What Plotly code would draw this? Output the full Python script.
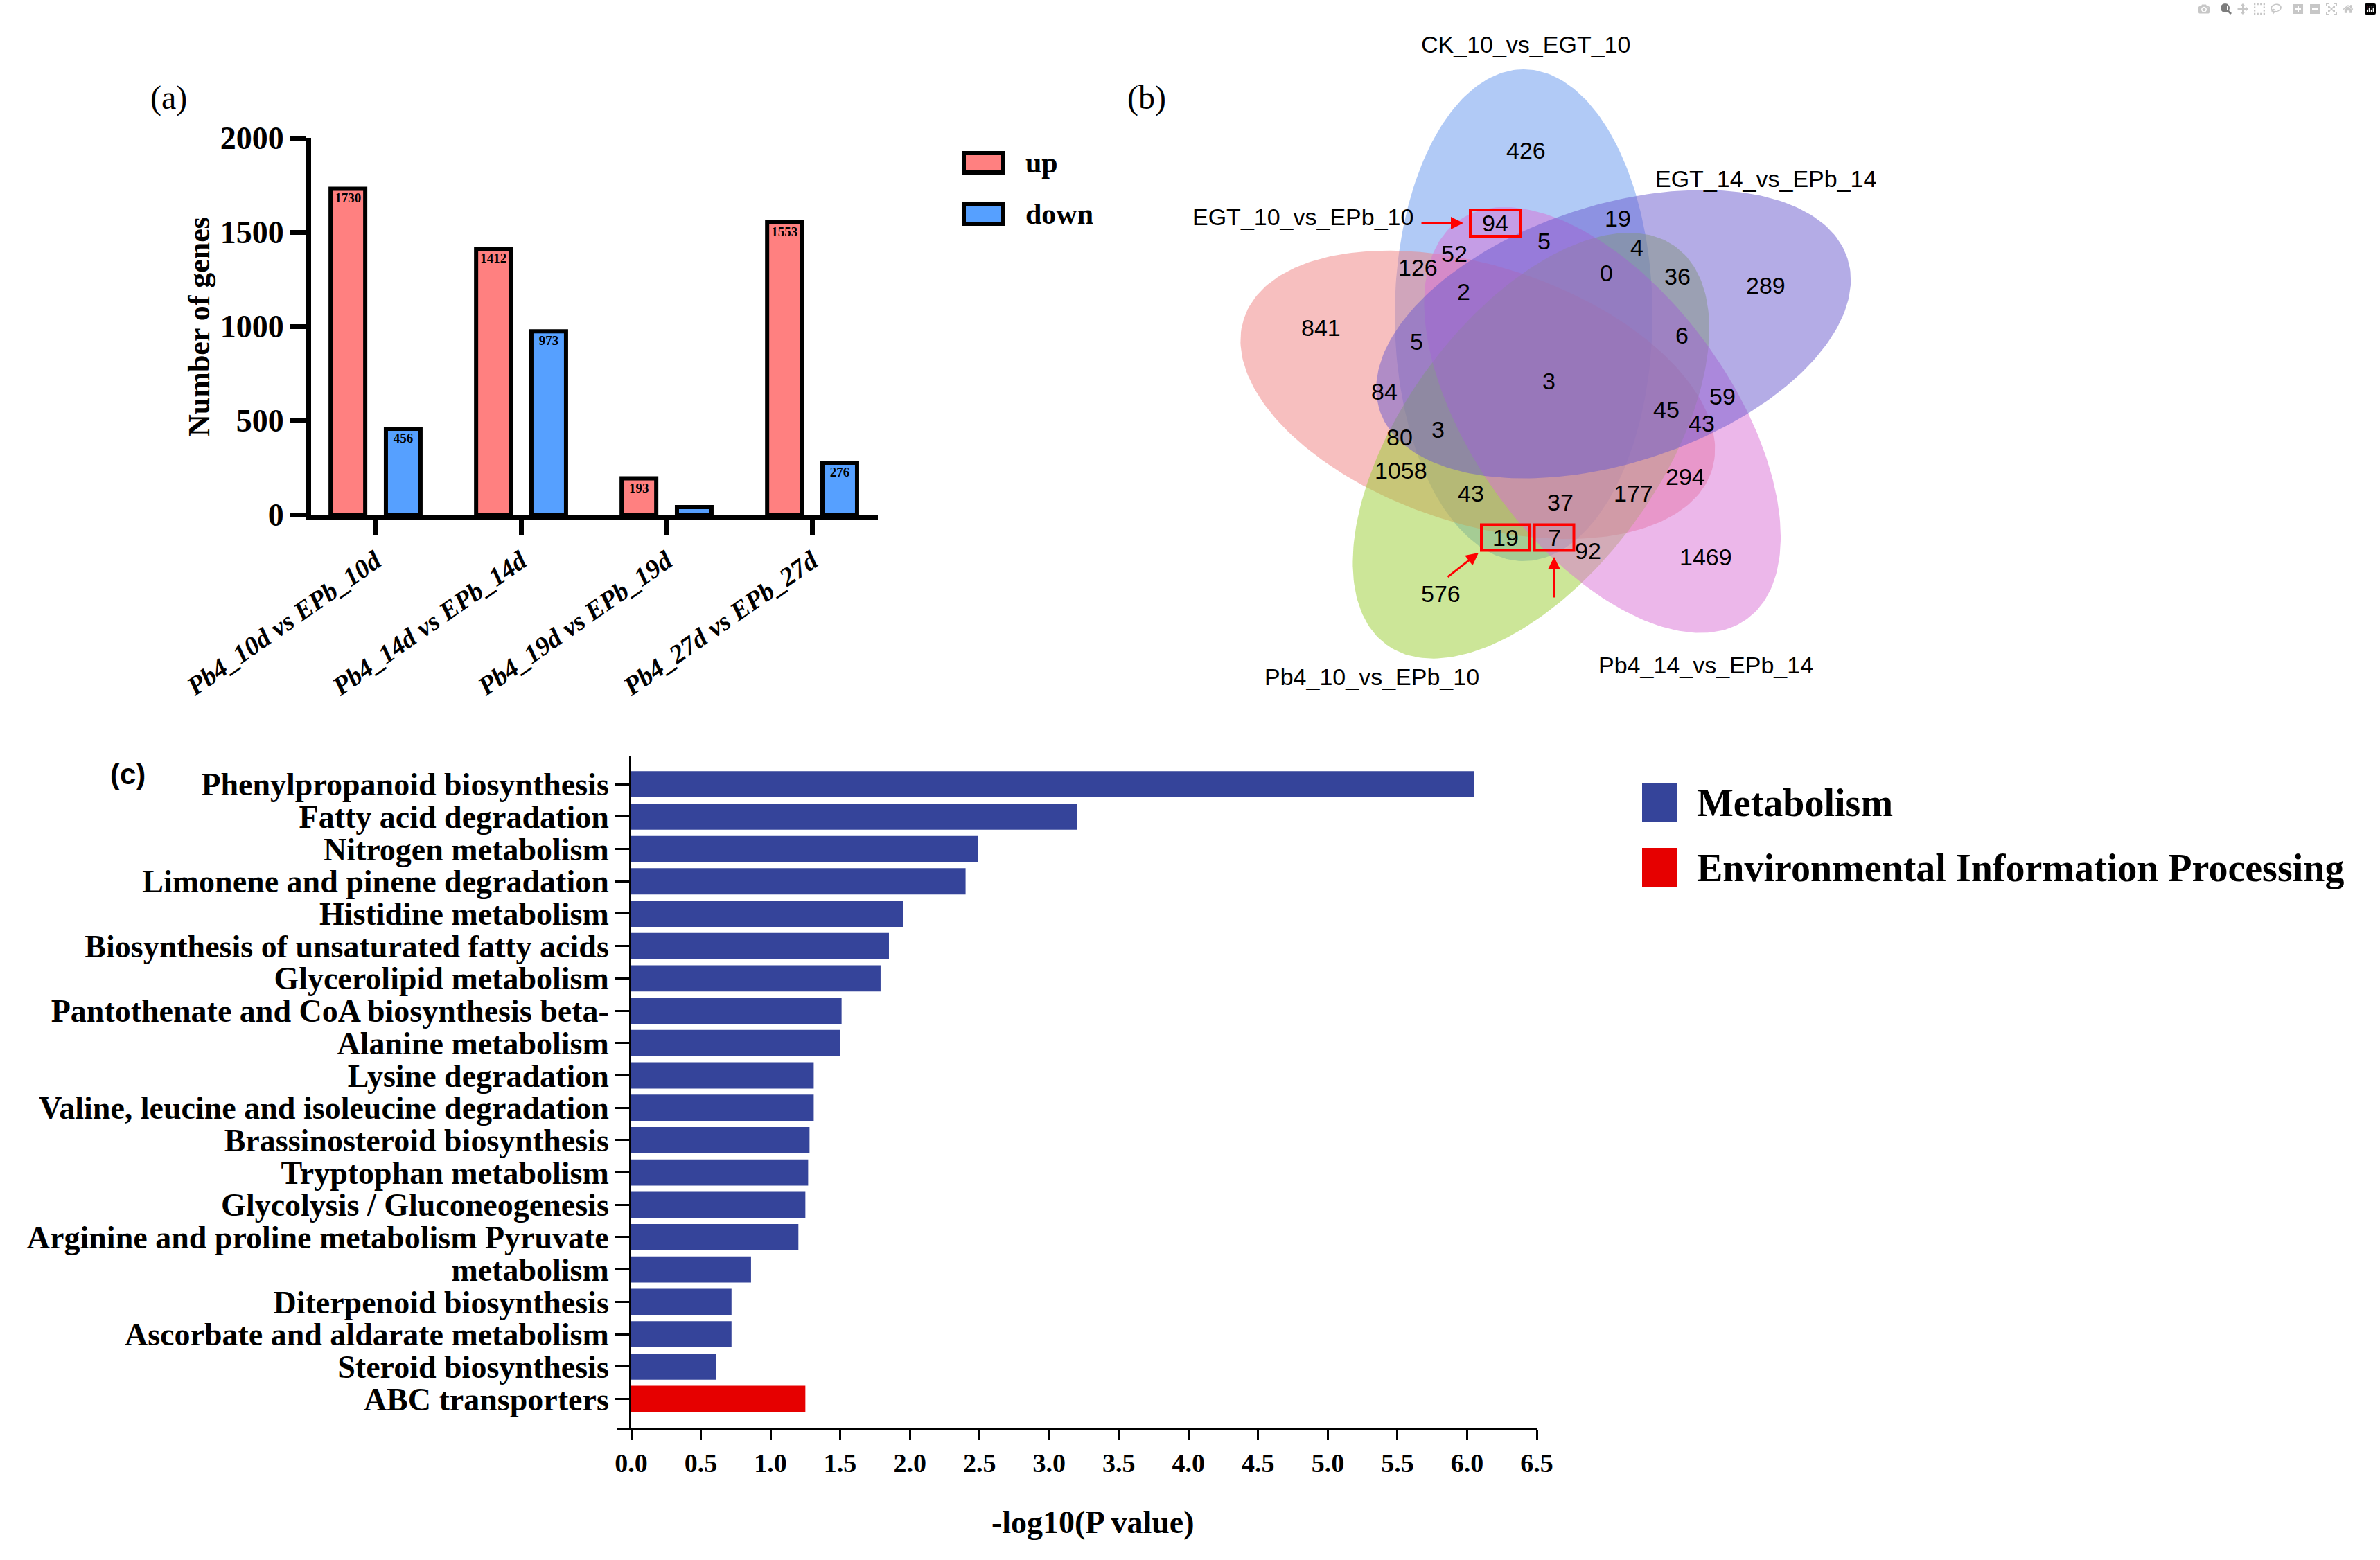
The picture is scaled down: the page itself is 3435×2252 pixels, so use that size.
import numpy as np
import plotly.graph_objects as go

W, H = 3435, 2252
SERIF = "Liberation Serif"
SANS = "Liberation Sans"

# ---------------- data: panel (a) ----------------
comparisons = ["Pb4_10d vs EPb_10d", "Pb4_14d vs EPb_14d", "Pb4_19d vs EPb_19d", "Pb4_27d vs EPb_27d"]
up_counts = [1730, 1412, 193, 1553]
down_counts = [456, 973, 40, 276]
up_labels = ["1730", "1412", "193", "1553"]
down_labels = ["456", "973", "", "276"]

# ---------------- data: panel (b) ----------------
venn_sets = ["CK_10_vs_EGT_10", "EGT_14_vs_EPb_14", "Pb4_14_vs_EPb_14", "Pb4_10_vs_EPb_10", "EGT_10_vs_EPb_10"]
venn_counts = [426, 19, 94, 5, 4, 52, 126, 0, 36, 289, 2, 841, 5, 6, 3, 84, 59, 45, 43,
               80, 3, 1058, 294, 43, 177, 37, 19, 7, 92, 1469, 576]
venn_highlight = [2, 26, 27]  # indices of boxed counts

# ---------------- data: panel (c) ----------------
pathways = ["Phenylpropanoid biosynthesis", "Fatty acid degradation", "Nitrogen metabolism",
            "Limonene and pinene degradation", "Histidine metabolism",
            "Biosynthesis of unsaturated fatty acids", "Glycerolipid metabolism",
            "Pantothenate and CoA biosynthesis beta-", "Alanine metabolism", "Lysine degradation",
            "Valine, leucine and isoleucine degradation", "Brassinosteroid biosynthesis",
            "Tryptophan metabolism", "Glycolysis / Gluconeogenesis",
            "Arginine and proline metabolism Pyruvate", "metabolism", "Diterpenoid biosynthesis",
            "Ascorbate and aldarate metabolism", "Steroid biosynthesis", "ABC transporters"]
neglog10p = [6.05, 3.20, 2.49, 2.40, 1.95, 1.85, 1.79, 1.51, 1.50, 1.31, 1.31, 1.28, 1.27,
             1.25, 1.20, 0.86, 0.72, 0.72, 0.61, 1.25]
pathway_class = ["Metabolism"] * 19 + ["Environmental Information Processing"]
class_names = ["Metabolism", "Environmental Information Processing"]
class_colors = {"Metabolism": "#35449A", "Environmental Information Processing": "#E60000"}

# ---------------- layout geometry (pixels) ----------------
def px(x):
    return x / W

def py(y):
    return 1 - y / H

# panel (a)
A_X0, A_X1 = 449, 1267
A_Y0, A_Y1 = 743, 199
# panel (c)
C_X0, C_X1 = 911, 2218
C_Y0, C_Y1 = 2062, 1092

# venn geometry
V_O = np.array([2245.0, 558.0])
V_OFF = np.array([-46.0, -103.0])
V_A, V_B = 355.0, 186.0
venn_nudge = [(0, 0), (0, 0), (-30, -8), (-12, -25), (0, 0)]
venn_fill = ["rgba(100,149,237,0.5)", "rgba(106,90,205,0.5)", "rgba(218,112,214,0.5)",
             "rgba(154,205,50,0.5)", "rgba(240,128,128,0.5)"]
venn_draw_order = [0, 4, 3, 2, 1]
venn_count_xy = [(2202, 217), (2335, 315), (2158, 322), (2228, 348), (2362, 357), (2099, 366),
                 (2046, 386), (2318, 394), (2421, 399), (2548, 412), (2112, 421), (1906, 473),
                 (2044, 493), (2427, 484), (2235, 550), (1998, 565), (2486, 572), (2405, 591),
                 (2456, 611), (2020, 631), (2075, 620), (2022, 679), (2432, 688), (2123, 712),
                 (2357, 712), (2252, 725), (2173, 776), (2243, 776), (2292, 795), (2462, 804),
                 (2079, 857)]
venn_box_wh = {2: (72, 38), 26: (70, 37), 27: (57, 37)}
venn_label_xy = [(2202, 64), (2548, 258), (2462, 960), (1980, 977), (1880, 313)]

fig = go.Figure()

# ---- panel (a) bars ----
fig.add_trace(go.Bar(x=comparisons, y=up_counts, name="up", text=up_labels,
                     width=0.238, offset=-0.309,
                     marker=dict(color="#FF8080", line=dict(color="black", width=6)),
                     textposition="inside", insidetextanchor="end", textangle=0,
                     textfont=dict(family=SERIF, size=19, color="black", weight="bold"),
                     xaxis="x", yaxis="y", showlegend=False, cliponaxis=False))
fig.add_trace(go.Bar(x=comparisons, y=down_counts, name="down", text=down_labels,
                     width=0.238, offset=0.071,
                     marker=dict(color="#56A0FF", line=dict(color="black", width=6)),
                     textposition="inside", insidetextanchor="end", textangle=0,
                     textfont=dict(family=SERIF, size=19, color="black", weight="bold"),
                     xaxis="x", yaxis="y", showlegend=False, cliponaxis=False))

# ---- panel (c) bars ----
fig.add_trace(go.Bar(y=pathways, x=neglog10p, orientation="h",
                     marker=dict(color=[class_colors[c] for c in pathway_class], line=dict(width=0)),
                     width=0.81, xaxis="x2", yaxis="y2", showlegend=False))

# ---- panel (b) venn ellipses ----
t = np.linspace(0, 2 * np.pi, 240)
for k in venn_draw_order:
    th = np.deg2rad(72 * k)
    c, s = np.cos(th), np.sin(th)
    off = np.array([V_OFF[0] * c - V_OFF[1] * s, V_OFF[0] * s + V_OFF[1] * c])
    cen = V_O + off + np.array(venn_nudge[k], dtype=float)
    ax_dir = np.array([0 * c - (-1) * s, 0 * s + (-1) * c])
    perp = np.array([-ax_dir[1], ax_dir[0]])
    ex = cen[0] + V_A * np.cos(t) * ax_dir[0] + V_B * np.sin(t) * perp[0]
    ey = cen[1] + V_A * np.cos(t) * ax_dir[1] + V_B * np.sin(t) * perp[1]
    fig.add_trace(go.Scatter(x=ex, y=ey, mode="lines", fill="toself", fillcolor=venn_fill[k],
                             line=dict(width=0), xaxis="x3", yaxis="y3", showlegend=False,
                             hoverinfo="skip", name=venn_sets[k]))

annotations = []
shapes = []

for i, (cnt, (x, y)) in enumerate(zip(venn_counts, venn_count_xy)):
    annotations.append(dict(x=x, y=y, xref="x3", yref="y3", text=str(cnt), showarrow=False,
                            font=dict(family=SANS, size=34, color="black"),
                            xanchor="center", yanchor="middle"))
for i in venn_highlight:
    x, y = venn_count_xy[i]
    w, h = venn_box_wh[i]
    shapes.append(dict(type="rect", xref="x3", yref="y3", x0=x - w / 2, x1=x + w / 2,
                       y0=y - h / 2, y1=y + h / 2, line=dict(color="#FF0000", width=4)))
for name, (x, y) in zip(venn_sets, venn_label_xy):
    annotations.append(dict(x=x, y=y, xref="x3", yref="y3", text=name, showarrow=False,
                            font=dict(family=SANS, size=34, color="black"),
                            xanchor="center", yanchor="middle"))
# red arrows
for (hx, hy, tx, ty) in [(2112, 322, 2050, 322), (2134, 798, 2088, 834), (2243, 804, 2243, 864)]:
    annotations.append(dict(x=hx, y=hy, ax=tx, ay=ty, xref="x3", yref="y3", axref="x3", ayref="y3",
                            text="", showarrow=True, arrowhead=2, arrowsize=1.2, arrowwidth=3,
                            arrowcolor="#FF0000"))

def ptext(x, y, text, font, **kw):
    d = dict(x=px(x), y=py(y), xref="paper", yref="paper", text=text, showarrow=False,
             xanchor="center", yanchor="middle", font=font)
    d.update(kw)
    return d

# panel labels
annotations += [
    ptext(244, 141, "(a)", dict(family=SERIF, size=48, color="black")),
    ptext(1655, 141, "(b)", dict(family=SERIF, size=48, color="black")),
    ptext(184, 1117, "(c)", dict(family=SANS, size=42, color="black", weight="bold")),
]
# axis titles
annotations += [
    ptext(287, 472, "Number of genes", dict(family=SERIF, size=44, color="black", weight="bold"),
          textangle=-90),
    ptext(1577, 2197, "-log10(P value)", dict(family=SERIF, size=46, color="black", weight="bold")),
]

# legend (a)
for lab, col, y0, y1 in [("up", "#FF8080", 221, 249), ("down", "#56A0FF", 295, 323)]:
    shapes.append(dict(type="rect", xref="paper", yref="paper", x0=px(1391), x1=px(1447),
                       y0=py(y1), y1=py(y0), fillcolor=col, line=dict(color="black", width=6)))
    annotations.append(ptext(1478, (y0 + y1) / 2, lab,
                             dict(family=SERIF, size=42, color="black", weight="bold"),
                             xanchor="left"))

# legend (c)
for name, y0, y1 in [("Metabolism", 1130, 1187), ("Environmental Information Processing", 1224, 1281)]:
    shapes.append(dict(type="rect", xref="paper", yref="paper", x0=px(2370), x1=px(2421),
                       y0=py(y1), y1=py(y0), fillcolor=class_colors[name], line=dict(width=0)))
    annotations.append(ptext(2447, (y0 + y1) / 2, name,
                             dict(family=SERIF, size=56, color="black", weight="bold"),
                             xanchor="left"))

# small extension of x axis line in (c)
shapes.append(dict(type="line", xref="paper", yref="paper", x0=px(890), x1=px(C_X0),
                   y0=py(C_Y0 + 1.5), y1=py(C_Y0 + 1.5), line=dict(color="black", width=3)))

fig.update_layout(
    template="none",
    width=W, height=H, margin=dict(l=0, r=0, t=0, b=0, pad=0), autosize=False,
    paper_bgcolor="white", plot_bgcolor="rgba(0,0,0,0)",
    barmode="overlay", showlegend=False,
    annotations=annotations, shapes=shapes,
    xaxis=dict(domain=[px(A_X0), px(A_X1)], anchor="y", range=[-0.443, 3.452], automargin=False,
               showline=True, linecolor="black", linewidth=7, ticks="outside", ticklen=23,
               tickwidth=7, tickcolor="black", tickangle=-35, showgrid=False, zeroline=False,
               tickfont=dict(family=SERIF, size=38, color="black", weight="bold", style="italic")),
    yaxis=dict(domain=[py(A_Y0), py(A_Y1)], anchor="x", range=[0, 2000], automargin=False,
               tickmode="array", tickvals=[0, 500, 1000, 1500, 2000], showline=True,
               linecolor="black", linewidth=7,
               ticks="outside", ticklen=23, tickwidth=7, tickcolor="black", showgrid=False,
               zeroline=False, tickfont=dict(family=SERIF, size=46, color="black", weight="bold")),
    xaxis2=dict(domain=[px(C_X0), px(C_X1)], anchor="y2", range=[0, 6.5], automargin=False,
                tickmode="linear", dtick=0.5, tick0=0,
                tickformat=".1f", showline=True, linecolor="black", linewidth=3, ticks="outside",
                ticklen=14, tickwidth=3, tickcolor="black", showgrid=False, zeroline=False,
                tickfont=dict(family=SERIF, size=38, color="black", weight="bold")),
    yaxis2=dict(domain=[py(C_Y0), py(C_Y1)], anchor="x2", range=[19.91, -0.86], automargin=False,
                categoryorder="array", categoryarray=pathways, tickmode="array", tickvals=pathways,
                showline=True, linecolor="black",
                linewidth=3, ticks="outside", ticklen=20, tickwidth=3, tickcolor="black",
                showgrid=False, zeroline=False,
                tickfont=dict(family=SERIF, size=46, color="black", weight="bold")),
    xaxis3=dict(domain=[0, 1], anchor="y3", range=[0, W], visible=False, fixedrange=True,
                automargin=False),
    yaxis3=dict(domain=[0, 1], anchor="x3", range=[H, 0], visible=False, fixedrange=True,
                automargin=False),
)

fig.write_html("out.html", post_script="document.body.style.margin='0';")
